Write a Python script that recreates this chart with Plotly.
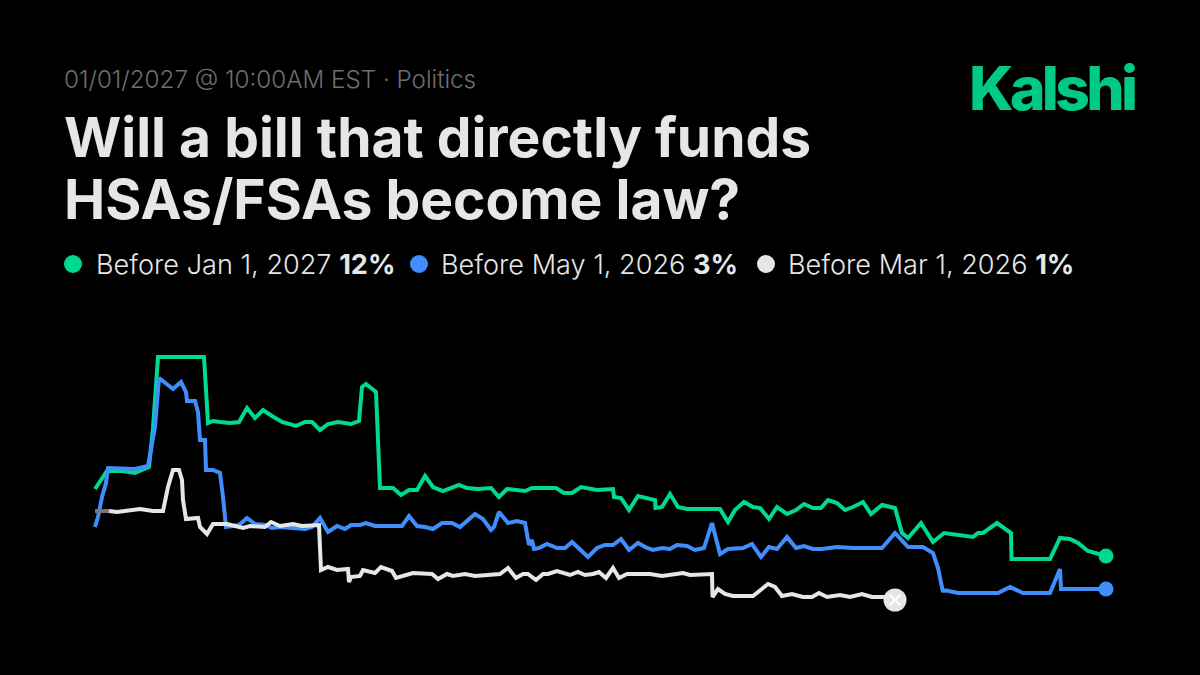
import plotly.graph_objects as go

# days since the market opened, probability in percent
green_x = [0, 1.4, 2.4, 5.4, 8, 10.8, 11.6, 12.6, 17, 21.8, 22.6, 23.6, 25, 27, 28.8, 30.4, 32, 33.6, 35.4, 37.4,
           40.2, 42, 43.4, 45, 46.6, 48.6, 51.2, 52.8, 53.4, 54.2, 56.2, 57, 59.6, 61.2, 62.8, 64.4, 66, 67.6, 69.6,
           72.8, 74.4, 76.6, 79.2, 80.8, 82.4, 86, 87.4, 92.2, 93.8, 95.4, 97.2, 100.4, 103.6, 103.8, 105.2, 106.8,
           108.6, 112, 112.1, 113.4, 115, 116.6, 118.4, 121.6, 125, 126.6, 128, 129.8, 131.6, 133, 134.8, 136.4,
           138.4, 140.2, 141.8, 143.6, 145.2, 146.6, 148.4, 150, 151.6, 153.6, 155.2, 157.4, 160, 161.4, 162.6,
           165.2, 167.6, 169.8, 172.6, 175.6, 176.6, 177.6, 180.4, 183.2, 183.3, 191, 193, 195, 196.6, 198.6, 202.2]
green_y = [28.25, 30.75, 32.75, 32.75, 32.25, 33.75, 43.5, 61.25, 61.25, 61.25, 44.75, 45.25, 45, 44.75, 45, 48.5, 46,
           48, 46.5, 45, 44, 45, 45, 43, 44.5, 45, 44.5, 45.25, 53.75, 54.5, 52.5, 28.5, 28.5, 26.75, 28, 28, 31.5,
           28.75, 27.75, 29.25, 28.5, 28.25, 28.5, 26.25, 28.25, 27.75, 28.5, 28.5, 27.25, 27.25, 28.75, 28, 28.25,
           26.25, 26, 23, 26.5, 25.5, 23.5, 23.75, 27, 23.75, 23.25, 23.25, 23.25, 20, 23, 25, 23.75, 23.5, 20.75,
           23.75, 22, 23, 24.5, 23.5, 23.5, 25.5, 24.75, 23, 23.75, 25, 22, 24.25, 23.5, 17.25, 16, 19.75, 15, 17.25,
           16.75, 16.25, 17.25, 17.25, 19.75, 17.25, 10.75, 10.75, 16, 15.75, 14.75, 12.75, 11.5]

blue_x = [0, 0.6, 1.4, 2.2, 2.6, 5.4, 8, 10.6, 12, 12.8, 15.6, 17.2, 18.2, 18.4, 20, 20.6, 21, 22, 22.2, 23.6, 25,
          25.6, 26.2, 28.8, 30.4, 32, 34, 35.4, 37, 39.6, 42, 43.4, 45, 46.6, 48.4, 50, 51.2, 53, 54.2, 56, 61.4, 62.8,
          64.4, 66, 67.6, 69.4, 71.4, 73, 76, 77.6, 79.2, 79.8, 80.8, 82.6, 84.4, 86, 86.8, 87.4, 87.8, 88.8, 90.4,
          92.4, 94, 95.4, 97, 98.6, 100.4, 102, 103.6, 105.2, 106.8, 108.6, 110.4, 111.6, 113.4, 115, 116.4, 118.4,
          120, 121.8, 123.4, 125, 126.6, 129.6, 131.4, 133.2, 134.8, 136.4, 138.4, 140.2, 141.8, 143.6, 145.4, 148.4,
          151.6, 153.4, 155.4, 157.4, 160, 162.6, 165.6, 167.6, 168.6, 169.6, 169.8, 172.6, 180.6, 183, 185.6, 191,
          193, 193.2, 202.2]
blue_y = [18.75, 21.25, 26.25, 29.75, 33.5, 33.5, 33.25, 34, 43.75, 56, 53.25, 55, 52.5, 50.25, 50.25, 47.5, 40.5,
          40.5, 33, 33, 32.25, 26.25, 18.75, 19.25, 21, 19.5, 19.25, 18.5, 18.75, 18.5, 18.25, 18.75, 21, 17.5, 19,
          18.25, 19.25, 19.25, 19.75, 19, 19, 21.5, 19, 18.75, 18.25, 19.75, 19.75, 18.75, 22, 20.75, 18, 18.75, 22.5,
          19.75, 20.25, 19.75, 14.25, 15.5, 13.25, 13.5, 14.5, 13.5, 13.5, 15, 13, 11.25, 13.5, 14.25, 14.25, 15.75,
          13, 14.75, 13.5, 13, 13.5, 13.25, 14.25, 14, 13, 13.5, 19.75, 12, 13.25, 13.5, 14.5, 11.25, 13.75, 13.25,
          16.25, 13.5, 14, 13.25, 13.25, 13.75, 13.5, 13.5, 13.25, 13.5, 17.25, 13.75, 13.75, 12.25, 8.5, 2.5, 3, 2.25,
          2.25, 3.75, 2.25, 2.25, 8.25, 3.25, 3.25]

white_x = [2.8, 4.4, 9, 11.6, 13.6, 14.6, 15.6, 16.8, 17.4, 17.6, 18.2, 20.6, 21, 22.4, 23.6, 26.4, 29.6, 31, 34, 35.2,
           37, 39.6, 41.4, 44.8, 45.2, 46.6, 48.4, 50.6, 50.8, 51.2, 53, 53.6, 56, 57.2, 59.4, 60.2, 63.6, 67.4, 68.6,
           70.4, 71.6, 74, 76, 81, 82.6, 84.2, 85.6, 86.6, 88.2, 89.6, 90.6, 92.4, 95, 96.6, 98, 99.6, 100.8, 102.2,
           103.6, 104.8, 106.4, 111, 113.4, 117.6, 119, 123.4, 123.5, 124.6, 126, 127.6, 131.6, 134.6, 136, 137.4,
           139.4, 141.6, 143.4, 144.8, 146.4, 149, 151, 153.4, 155.4, 160]
white_y = [22.75, 22.5, 23.25, 22.75, 22.75, 28.75, 33, 33, 30.5, 25.5, 20.75, 21, 18.75, 17, 19.5, 19.5, 18.5, 19,
           18.75, 20, 19, 19.5, 19, 19.25, 8, 8.75, 8, 8.25, 5, 6.25, 6.5, 8, 7.25, 8.75, 7.75, 6, 7.25, 7, 5.75, 7,
           6.5, 7, 6.5, 7, 8.5, 6, 7, 7, 5.5, 7, 7, 7.75, 6.75, 7.5, 6.75, 7, 7.5, 6, 8.5, 6, 7, 7, 6.5, 7.25, 6.75, 7,
           1.25, 3.25, 2, 1.5, 1.5, 4.5, 3.75, 1.5, 2, 1.25, 1.25, 2.25, 1.25, 1.75, 1.25, 2, 1.25, 1.25]

# start of the white series shows up grey
stub_x = [0, 2.8]
stub_y = [22.75, 22.75]

closed_x = [160]
closed_y = [0.5]

GREEN = "#00d991"
BLUE = "#3f8efc"
WHITE = "#e6e6e6"
FONT = "Inter"

fig = go.Figure()
line_width = 4
fig.add_trace(go.Scatter(x=green_x, y=green_y, mode="lines", line=dict(color=GREEN, width=line_width)))
fig.add_trace(go.Scatter(x=blue_x, y=blue_y, mode="lines", line=dict(color=BLUE, width=line_width)))
fig.add_trace(go.Scatter(x=stub_x, y=stub_y, mode="lines", line=dict(color="#777777", width=line_width)))
fig.add_trace(go.Scatter(x=white_x, y=white_y, mode="lines", line=dict(color=WHITE, width=line_width)))

# end dots
fig.add_trace(go.Scatter(x=green_x[-1:], y=green_y[-1:], mode="markers", marker=dict(color=GREEN, size=15)))
fig.add_trace(go.Scatter(x=blue_x[-1:], y=blue_y[-1:], mode="markers", marker=dict(color=BLUE, size=15)))
fig.add_trace(go.Scatter(x=closed_x, y=closed_y, mode="markers", marker=dict(color=WHITE, size=23)))
fig.add_trace(go.Scatter(x=closed_x, y=closed_y, mode="markers",
                         marker=dict(symbol="x-thin", color="#ffffff", size=11, line=dict(color="#ffffff", width=2))))


def add_text(x, y, text, size, color, weight=400):
    fig.add_annotation(xref="paper", yref="paper", x=x / 1200, y=1 - y / 675, text=text, showarrow=False,
                       xanchor="left", yanchor="middle", align="left", borderpad=0,
                       font=dict(family=FONT, size=size, color=color, weight=weight))


add_text(63, 80, "01/01/2027 @ 10:00AM EST · Politics", 24.2, "#6e6e6e", 300)
add_text(63, 137, "Will a bill that directly funds", 55.15, WHITE, 700)
add_text(63, 199, "HSAs/FSAs become law?", 55.15, WHITE, 700)
add_text(968, 88, "<span style='letter-spacing:-3.7px'>Kalshi</span>", 60.5, "#00c985", 800)

add_text(95, 264, "Before Jan 1, 2027 <b>12%</b>", 27.1, WHITE, 300)
add_text(440, 264, "Before May 1, 2026 <b>3%</b>", 27.1, WHITE, 300)
add_text(787, 264, "Before Mar 1, 2026 <b>1%</b>", 27.1, WHITE, 300)

for cx, color in [(73, GREEN), (419, BLUE), (766, WHITE)]:
    fig.add_shape(type="circle", xref="paper", yref="paper", x0=(cx - 9) / 1200, x1=(cx + 9) / 1200,
                  y0=1 - 273 / 675, y1=1 - 255 / 675, fillcolor=color, line_width=0)

fig.update_layout(
    width=1200, height=675,
    margin=dict(l=0, r=0, t=0, b=0),
    paper_bgcolor="#000000", plot_bgcolor="#000000",
    showlegend=False,
    xaxis=dict(visible=False, range=[-19, 221]),
    yaxis=dict(visible=False, range=[-18.25, 150.5]),
)

# browser default body margin would shift the whole picture
fig.write_html("out.html", config=dict(displayModeBar=False),
               post_script="document.body.style.margin='0';document.body.style.background='#000';")
